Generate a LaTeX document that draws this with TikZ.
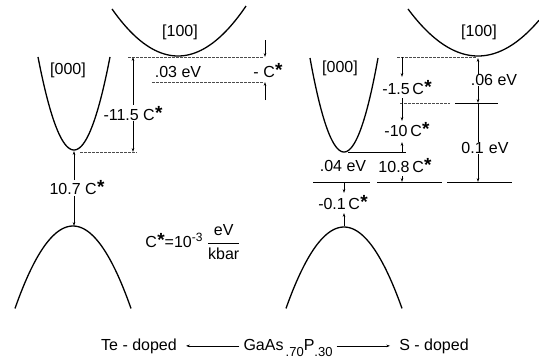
\documentclass[tikz,border=0pt]{standalone}
\usepackage{fontspec}
\setmainfont{Liberation Sans}
\usetikzlibrary{arrows.meta}
\newcommand{\Cs}{C\kern0.3pt\raisebox{1pt}{\fontsize{19}{19}\selectfont\bfseries *}}

\begin{document}
\begin{tikzpicture}[x=1pt, y=-1pt, >={Stealth[length=4pt,width=2.6pt]},
  band/.style={line width=1.3pt, samples=60},
  lvl/.style={line width=0.5pt, dash pattern=on 3pt off 1pt, black!70},
  dim/.style={line width=0.5pt},
  lab/.style={font=\fontsize{16}{18}\selectfont, inner sep=0.5pt},
  big/.style={font=\fontsize{16}{18}\selectfont, inner sep=1pt, anchor=base}]
\useasboundingbox (0,0) rectangle (539,362);

% Te-doped side
\draw[band, domain=-36:36] plot ({74+\x},{150-0.0718*\x*\x});
\draw[band, domain=-66:68] plot ({178+\x},{56-0.0108*\x*\x});
\draw[band, domain=-58:58] plot ({73+\x},{226+0.0245*\x*\x});
\node[lab] (k0L) at (68,70) {[000]};
\node[lab] (k1L) at (180,32) {[100]};
\coordinate (cL) at (74,151); \coordinate (vL) at (74,226);
\draw[lvl] (128,57) -- (263,57); \draw[lvl] (152,82) -- (263,82); \draw[lvl] (80,152) -- (137,152);
\node[lab] (e03) at (178,72) {.03 eV};
\node[lab] (cm) at (268,71) {- \Cs};
\draw[dim,->] (265,40) -- (265,57); \draw[dim,->] (265,100) -- (265,82);
\draw[dim,<->] (133,57) -- (133,152) node[pos=0.59, lab, fill=white] (c115) {-11.5 \Cs};
\node[lab] (c107) at (77,188) {10.7 \Cs};
\draw[dim,->] (c107.north -| cL) -- (cL); \draw[dim,->] (c107.south -| cL) -- (vL);
\node[lab] (cdef) at (193,242) {\Cs=10\raisebox{6pt}{\fontsize{12}{12}\selectfont -3} $\displaystyle\frac{\mbox{eV}}{\mbox{kbar}}$};

% S-doped side
\draw[band, domain=-34:34] plot ({344+\x},{152-0.0813*\x*\x});
\draw[band, domain=-70:61] plot ({478+\x},{56-0.0096*\x*\x});
\draw[band, domain=-58:58] plot ({344+\x},{227+0.0242*\x*\x});
\node[lab] (k0R) at (340,68) {[000]};
\node[lab] (k1R) at (479,32) {[100]};
\draw[lvl] (397,57) -- (476,57); \draw[lvl] (400,103) -- (450,103);
\draw[dim] (455,103) -- (498,103); \draw[dim] (348,152) -- (406,152);
\foreach \a/\b in {313/370,377/442,447/512} \draw[line width=1pt] (\a,182) -- (\b,182);
\draw[dim,->] (402,57) -- (402,77); \draw[dim,->] (402,98) -- (402,121);
\draw[dim,->] (402,152) -- (402,142); \draw[dim,->] (402,176) -- (402,182);
\node[lab] (c15) at (407,88) {-1.5\,\Cs};
\node[lab] (c10) at (407,130) {-10\,\Cs};
\node[lab] (c108) at (405,166) {10.8\,\Cs};
\draw[dim,<->] (478,58) -- (478,103); \draw[dim,->] (478,103) -- (478,182);
\node[lab, fill=white] (e06) at (494,80) {.06 eV};
\node[lab, fill=white] (e01) at (485,148) {0.1\,\,eV};
\node[lab] (e04) at (343,166) {.04 eV};
\node[lab] (c01) at (343,203) {-0.1\,\Cs};
\draw[dim,->] (344,182) -- (344,193); \draw[dim,->] (344,226) -- (344,213);

% alloy
\node[big] (te) at (139,350) {Te - doped};
\node[big] (gaas) at (288,350) {GaAs\raisebox{-6pt}{\fontsize{13}{13}\selectfont\,.70}P\raisebox{-6pt}{\fontsize{13}{13}\selectfont .30}};
\node[big] (sd) at (434,350) {S - doped};
\draw[dim,->,shorten <=3pt,shorten >=8pt] (gaas.west |- te.east) -- (te.east);
\draw[dim,->,shorten <=3pt,shorten >=8pt] (gaas.east |- sd.west) -- (sd.west);
\end{tikzpicture}
\end{document}
